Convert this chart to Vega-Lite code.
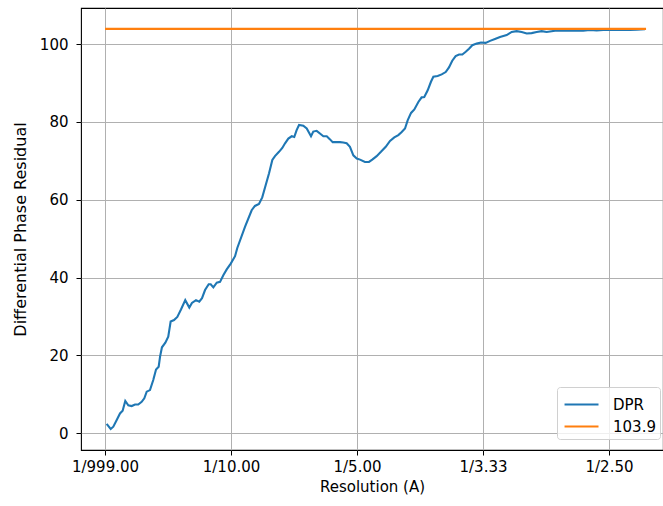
{
  "$schema": "https://vega.github.io/schema/vega-lite/v6.json",
  "width": 582,
  "height": 442,
  "autosize": {"type": "none"},
  "padding": {"left": 81, "top": 8, "right": 0, "bottom": 56},
  "background": "white",
  "config": {
    "font": "DejaVu Sans",
    "view": {"stroke": "#000", "strokeWidth": 1.1},
    "axis": {
      "domain": false,
      "grid": true,
      "gridColor": "#b0b0b0",
      "gridWidth": 1,
      "tickColor": "#000",
      "tickSize": 5,
      "tickWidth": 1,
      "labelFont": "DejaVu Sans",
      "labelFontSize": 15,
      "labelColor": "#000",
      "titleFont": "DejaVu Sans",
      "titleFontSize": 15,
      "titleFontWeight": "normal",
      "titleColor": "#000"
    }
  },
  "datasets": {
    "dpr": [
      {"x": 0.0013, "y": 2.4}, {"x": 0.0045, "y": 1.1}, {"x": 0.0066, "y": 1.7}, {"x": 0.0093, "y": 3.4},
      {"x": 0.0119, "y": 5.1}, {"x": 0.0140, "y": 5.8}, {"x": 0.0161, "y": 8.3}, {"x": 0.0185, "y": 7.2},
      {"x": 0.0212, "y": 7.0}, {"x": 0.0238, "y": 7.4}, {"x": 0.0264, "y": 7.4}, {"x": 0.0291, "y": 8.1},
      {"x": 0.0312, "y": 9.0}, {"x": 0.0331, "y": 10.7}, {"x": 0.0357, "y": 11.1}, {"x": 0.0383, "y": 13.7},
      {"x": 0.0405, "y": 16.4}, {"x": 0.0426, "y": 17.1}, {"x": 0.0437, "y": 19.7}, {"x": 0.0452, "y": 22.1},
      {"x": 0.0479, "y": 23.3}, {"x": 0.0502, "y": 24.8}, {"x": 0.0521, "y": 28.7}, {"x": 0.0548, "y": 29.1},
      {"x": 0.0574, "y": 29.9}, {"x": 0.0603, "y": 31.8}, {"x": 0.0637, "y": 34.2}, {"x": 0.0669, "y": 32.3},
      {"x": 0.0690, "y": 33.5}, {"x": 0.0722, "y": 34.2}, {"x": 0.0748, "y": 33.8}, {"x": 0.0770, "y": 34.7},
      {"x": 0.0794, "y": 36.8}, {"x": 0.0823, "y": 38.3}, {"x": 0.0839, "y": 38.3}, {"x": 0.0860, "y": 37.5},
      {"x": 0.0887, "y": 38.7}, {"x": 0.0913, "y": 38.9}, {"x": 0.0939, "y": 40.6}, {"x": 0.0966, "y": 42.1},
      {"x": 0.0998, "y": 43.6}, {"x": 0.1032, "y": 45.5}, {"x": 0.1050, "y": 47.6}, {"x": 0.1111, "y": 53.0},
      {"x": 0.1164, "y": 57.3}, {"x": 0.1190, "y": 58.4}, {"x": 0.1222, "y": 58.9}, {"x": 0.1248, "y": 60.6},
      {"x": 0.1275, "y": 63.7}, {"x": 0.1302, "y": 66.8}, {"x": 0.1328, "y": 70.2}, {"x": 0.1349, "y": 71.2},
      {"x": 0.1381, "y": 72.3}, {"x": 0.1407, "y": 73.3}, {"x": 0.1429, "y": 74.5}, {"x": 0.1455, "y": 75.7},
      {"x": 0.1482, "y": 76.3}, {"x": 0.1502, "y": 76.1}, {"x": 0.1521, "y": 77.9}, {"x": 0.1540, "y": 79.2},
      {"x": 0.1574, "y": 79.0}, {"x": 0.1601, "y": 78.3}, {"x": 0.1635, "y": 76.3}, {"x": 0.1653, "y": 77.5},
      {"x": 0.1680, "y": 77.7}, {"x": 0.1706, "y": 77.0}, {"x": 0.1733, "y": 76.3}, {"x": 0.1760, "y": 76.3},
      {"x": 0.1786, "y": 75.5}, {"x": 0.1807, "y": 74.8}, {"x": 0.1833, "y": 74.8}, {"x": 0.1865, "y": 74.8},
      {"x": 0.1891, "y": 74.7}, {"x": 0.1918, "y": 74.5}, {"x": 0.1944, "y": 73.6}, {"x": 0.1971, "y": 71.4},
      {"x": 0.1998, "y": 70.6}, {"x": 0.2024, "y": 70.3}, {"x": 0.2063, "y": 69.7}, {"x": 0.2095, "y": 69.7},
      {"x": 0.2121, "y": 70.3}, {"x": 0.2156, "y": 71.2}, {"x": 0.2190, "y": 72.3}, {"x": 0.2228, "y": 73.6},
      {"x": 0.2262, "y": 75.1}, {"x": 0.2296, "y": 76.0}, {"x": 0.2328, "y": 76.6}, {"x": 0.2355, "y": 77.4},
      {"x": 0.2381, "y": 78.3}, {"x": 0.2402, "y": 80.4}, {"x": 0.2429, "y": 82.3}, {"x": 0.2455, "y": 83.2},
      {"x": 0.2487, "y": 85.1}, {"x": 0.2513, "y": 86.3}, {"x": 0.2534, "y": 86.4}, {"x": 0.2561, "y": 88.1},
      {"x": 0.2587, "y": 90.3}, {"x": 0.2606, "y": 91.6}, {"x": 0.2640, "y": 91.8}, {"x": 0.2672, "y": 92.2},
      {"x": 0.2704, "y": 92.8}, {"x": 0.2730, "y": 94.0}, {"x": 0.2756, "y": 95.7}, {"x": 0.2783, "y": 96.9},
      {"x": 0.2810, "y": 97.3}, {"x": 0.2836, "y": 97.3}, {"x": 0.2863, "y": 98.0}, {"x": 0.2889, "y": 98.8},
      {"x": 0.2915, "y": 99.7}, {"x": 0.2950, "y": 100.1}, {"x": 0.2984, "y": 100.4}, {"x": 0.3021, "y": 100.3},
      {"x": 0.3056, "y": 100.8}, {"x": 0.3095, "y": 101.3}, {"x": 0.3135, "y": 101.8}, {"x": 0.3188, "y": 102.3},
      {"x": 0.3228, "y": 103.1}, {"x": 0.3267, "y": 103.3}, {"x": 0.3307, "y": 103.1}, {"x": 0.3347, "y": 102.7},
      {"x": 0.3386, "y": 102.8}, {"x": 0.3426, "y": 103.1}, {"x": 0.3466, "y": 103.3}, {"x": 0.3505, "y": 103.1},
      {"x": 0.3545, "y": 103.3}, {"x": 0.3585, "y": 103.5}, {"x": 0.3625, "y": 103.4}, {"x": 0.3664, "y": 103.5},
      {"x": 0.3704, "y": 103.4}, {"x": 0.3743, "y": 103.5}, {"x": 0.3796, "y": 103.4}, {"x": 0.3849, "y": 103.6},
      {"x": 0.3902, "y": 103.5}, {"x": 0.3955, "y": 103.6}, {"x": 0.4008, "y": 103.6}, {"x": 0.4061, "y": 103.6},
      {"x": 0.4113, "y": 103.7}, {"x": 0.4167, "y": 103.6}, {"x": 0.4220, "y": 103.7}, {"x": 0.4286, "y": 103.8}
    ],
    "ref": [
      {"x": 0.0, "y": 103.9},
      {"x": 0.4294, "y": 103.9}
    ]
  },
  "layer": [
    {
      "data": {"name": "dpr"},
      "transform": [{"calculate": "'DPR'", "as": "series"}],
      "mark": {"type": "line", "strokeWidth": 2.1, "clip": true},
      "encoding": {
        "x": {
          "field": "x", "type": "quantitative",
          "scale": {"domain": [-0.019048, 0.442857], "nice": false, "zero": false},
          "axis": {
            "title": "Resolution (A)",
            "values": [0, 0.1, 0.2, 0.3, 0.4],
            "labelExpr": "datum.value == 0 ? '1/999.00' : '1/' + format(1 / datum.value, '.2f')",
            "labelPadding": 4,
            "titlePadding": 5
          }
        },
        "y": {
          "field": "y", "type": "quantitative",
          "scale": {"domain": [-4.29, 109.25], "nice": false, "zero": false},
          "axis": {
            "title": "Differential Phase Residual",
            "titleFontSize": 16,
            "values": [0, 20, 40, 60, 80, 100],
            "labelPadding": 8,
            "titlePadding": 11
          }
        },
        "color": {
          "field": "series", "type": "nominal",
          "scale": {"domain": ["DPR", "103.9"], "range": ["#1f77b4", "#ff7f0e"]},
          "legend": {
            "title": null,
            "orient": "none",
            "legendX": 476,
            "legendY": 379,
            "symbolType": "M-0.83,0H2",
            "symbolSize": 576,
            "symbolStrokeWidth": 2.1,
            "symbolFillColor": "transparent",
            "labelFontSize": 15,
            "labelFont": "DejaVu Sans",
            "labelColor": "#000",
            "rowPadding": 0,
            "padding": 4,
            "strokeColor": "#d0d0d0",
            "fillColor": "rgba(255,255,255,0.8)",
            "cornerRadius": 3,
            "labelOffset": 25
          }
        }
      }
    },
    {
      "data": {"name": "ref"},
      "transform": [{"calculate": "'103.9'", "as": "series"}],
      "mark": {"type": "line", "strokeWidth": 2.1, "clip": true},
      "encoding": {
        "x": {"field": "x", "type": "quantitative"},
        "y": {"field": "y", "type": "quantitative"},
        "color": {"field": "series", "type": "nominal"}
      }
    }
  ]
}
